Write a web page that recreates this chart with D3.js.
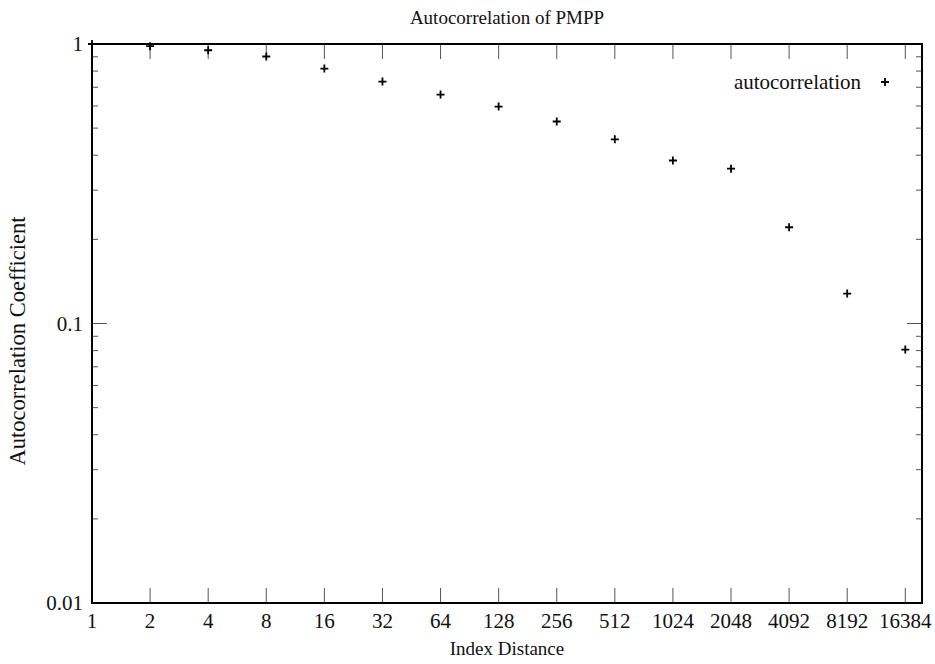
<!DOCTYPE html>
<html>
<head>
<meta charset="utf-8">
<script src="https://cdn.jsdelivr.net/npm/d3@7"></script>
<style>
  html, body { margin: 0; padding: 0; background: #fff; }
  svg text { font-family: "Liberation Serif", "Times New Roman", serif; fill: #111; }
</style>
</head>
<body>
<svg id="chart" width="935" height="664"></svg>
<script>
// Autocorrelation coefficient at power-of-two index distances
const distances = [1, 2, 4, 8, 16, 32, 64, 128, 256, 512, 1024, 2048, 4096, 8192, 16384];
const coefficients = [1.0, 0.982, 0.950, 0.902, 0.817, 0.734, 0.659, 0.597, 0.528, 0.456, 0.383, 0.358, 0.221, 0.128, 0.0807];
const xTickLabels = ["1", "2", "4", "8", "16", "32", "64", "128", "256", "512", "1024", "2048", "4092", "8192", "16384"];
const yTickValues = [0.01, 0.1, 1];
const yTickLabels = ["0.01", "0.1", "1"];
const seriesName = "autocorrelation";

const W = 935, H = 664;
const margin = { left: 92, right: 13, top: 44, bottom: 61 };
const svg = d3.select("#chart");

const x = d3.scaleLog().base(2).domain([1, 20000]).range([margin.left, W - margin.right]);
const y = d3.scaleLog().domain([0.01, 1]).range([H - margin.bottom, margin.top]);

const x0 = x.range()[0], x1 = x.range()[1];
const y0 = y.range()[0], y1 = y.range()[1];
const tickColor = "#555";
const majorLen = 15, minorLen = 6;

// x ticks (bottom and top, pointing inward)
const g = svg.append("g");
distances.forEach(d => {
  const px = x(d);
  g.append("line").attr("x1", px).attr("x2", px).attr("y1", y0).attr("y2", y0 - majorLen)
    .attr("stroke", tickColor).attr("stroke-width", 1);
  g.append("line").attr("x1", px).attr("x2", px).attr("y1", y1).attr("y2", y1 + majorLen)
    .attr("stroke", tickColor).attr("stroke-width", 1);
});
svg.append("g").selectAll("text.xt").data(distances).join("text")
  .attr("class", "xt")
  .attr("x", d => x(d)).attr("y", y0 + 25)
  .attr("text-anchor", "middle").attr("font-size", 21)
  .text((d, i) => xTickLabels[i]);

// y ticks: major at decades, minor at 2..9 within each decade
const minor = [];
for (let dec = 0.01; dec < 1; dec *= 10) for (let m = 2; m <= 9; m++) minor.push(+(m * dec).toPrecision(3));
yTickValues.forEach(v => {
  g.append("line").attr("x1", x0).attr("x2", x0 + majorLen).attr("y1", y(v)).attr("y2", y(v))
    .attr("stroke", tickColor).attr("stroke-width", 1);
  g.append("line").attr("x1", x1).attr("x2", x1 - majorLen).attr("y1", y(v)).attr("y2", y(v))
    .attr("stroke", tickColor).attr("stroke-width", 1);
});
minor.forEach(v => {
  g.append("line").attr("x1", x0).attr("x2", x0 + minorLen).attr("y1", y(v)).attr("y2", y(v))
    .attr("stroke", tickColor).attr("stroke-width", 1);
  g.append("line").attr("x1", x1).attr("x2", x1 - minorLen).attr("y1", y(v)).attr("y2", y(v))
    .attr("stroke", tickColor).attr("stroke-width", 1);
});
svg.append("g").selectAll("text.yt").data(yTickValues).join("text")
  .attr("class", "yt")
  .attr("x", x0 - 9).attr("y", d => y(d)).attr("dy", "0.35em")
  .attr("text-anchor", "end").attr("font-size", 21)
  .text((d, i) => yTickLabels[i]);

// frame
svg.append("rect").attr("x", x0).attr("y", y1).attr("width", x1 - x0).attr("height", y0 - y1)
  .attr("fill", "none").attr("stroke", "#000").attr("stroke-width", 2);

// data points as "+" markers
const s = 4;
const pts = svg.append("g").attr("stroke", "#000").attr("stroke-width", 1.8);
distances.forEach((d, i) => {
  const px = x(d), py = y(coefficients[i]);
  pts.append("path").attr("d", `M${px - s},${py}H${px + s}M${px},${py - s}V${py + s}`);
});

// legend
svg.append("text").attr("x", 861).attr("y", 89).attr("text-anchor", "end")
  .attr("font-size", 21).text(seriesName);
pts.append("path").attr("d", `M${885 - s},82H${885 + s}M885,${82 - s}V${82 + s}`);

// titles
svg.append("text").attr("x", (x0 + x1) / 2).attr("y", 24).attr("text-anchor", "middle")
  .attr("font-size", 19).text("Autocorrelation of PMPP");
svg.append("text").attr("x", (x0 + x1) / 2).attr("y", 655).attr("text-anchor", "middle")
  .attr("font-size", 19).text("Index Distance");
svg.append("text").attr("transform", "translate(25,341) rotate(-90)")
  .attr("text-anchor", "middle").attr("font-size", 22.5).text("Autocorrelation Coefficient");
</script>
</body>
</html>
